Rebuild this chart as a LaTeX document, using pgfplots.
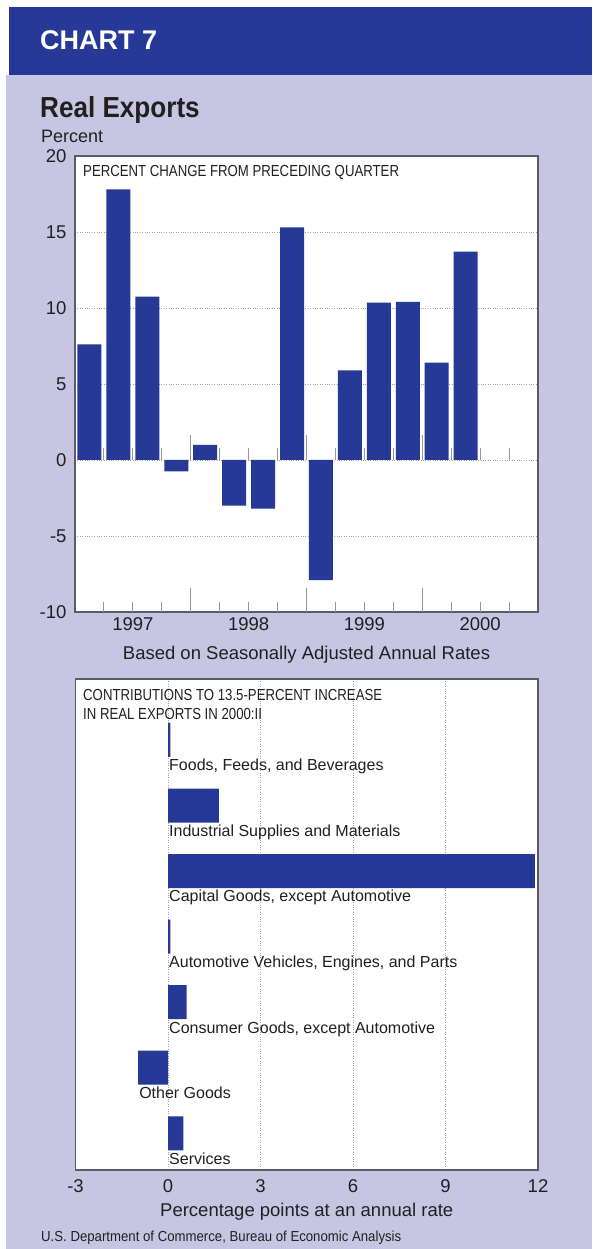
\documentclass[border=0pt]{standalone}
\usepackage{fontspec}
\setmainfont{Liberation Sans}
\usepackage{pgfplots}
\pgfplotsset{compat=1.18}
\definecolor{bea}{RGB}{39,57,150}
\definecolor{lav}{RGB}{199,198,226}
\definecolor{framegray}{RGB}{92,92,100}
\definecolor{ink}{RGB}{35,31,32}
\definecolor{tickgray}{RGB}{150,150,155}
\definecolor{gridgray}{RGB}{160,160,165}
\newcommand{\fs}[1]{\fontsize{#1}{#1}\selectfont}

\begin{document}
\begin{tikzpicture}[x=1pt,y=1pt]
% page background, header band
\fill[white] (0,0) rectangle (592,1249);
\fill[lav] (6,0) rectangle (592,1174);
\fill[bea] (9,1174) rectangle (592,1242);
\node[anchor=base west, inner sep=0pt, text=white, font=\fs{27}\bfseries] at (40,1199) {CHART 7};
\node[anchor=base west, inner sep=0pt, text=ink, font=\fs{29}\bfseries] at (40,1131) {\scalebox{0.9}[1]{Real Exports}};
\node[anchor=base west, inner sep=0pt, text=ink, font=\fs{18}] at (41,1106) {Percent};

% top chart: percent change from preceding quarter
\begin{axis}[
  at={(75pt,637pt)}, anchor=south west,
  width=463pt, height=456pt, scale only axis,
  xmin=0, xmax=16, ymin=-10, ymax=20,
  axis background/.style={fill=white},
  axis line style={draw=framegray, line width=1.6pt},
  ytick={-10,-5,0,5,10,15,20},
  yticklabels={-10,-5,0,5,10,15,20},
  xtick={2,6,10,14},
  xticklabels={1997,1998,1999,2000},
  tick style={draw=none},
  ymajorgrids,
  grid style={dotted, gridgray, line width=0.8pt},
  every tick label/.append style={font=\fs{18.5}, text=ink},
  yticklabel style={xshift=-5pt},
  xticklabel style={yshift=-2pt},
  xlabel={Based on Seasonally Adjusted Annual Rates},
  xlabel style={font=\fs{18.5}, text=ink, at={(rel axis cs:0.5,0)}, anchor=center, yshift=-43pt},
]
% quarter and year ticks on the zero line and on the bottom edge
\pgfplotsinvokeforeach{1,2,3,5,6,7,9,10,11,13,14,15}{
  \draw[tickgray, line width=1pt] (axis cs:#1,0) -- (axis cs:#1,0.8);
  \draw[tickgray, line width=1pt] (axis cs:#1,-10) -- (axis cs:#1,-9.34);
}
\pgfplotsinvokeforeach{4,8,12}{
  \draw[tickgray, line width=1pt] (axis cs:#1,0) -- (axis cs:#1,1.65);
  \draw[tickgray, line width=1pt] (axis cs:#1,-10) -- (axis cs:#1,-8.42);
}
\addplot[ybar, bar width=24pt, fill=bea, draw=none] coordinates {
  (0.5,7.6) (1.5,17.8) (2.5,10.75) (3.5,-0.75)
  (4.5,1.0) (5.5,-3.0) (6.5,-3.2) (7.5,15.3)
  (8.5,-7.9) (9.5,5.9) (10.5,10.35) (11.5,10.4)
  (12.5,6.4) (13.5,13.7)
};
\end{axis}
\node[anchor=base west, inner sep=0pt, text=ink, font=\fs{16}] at (83,1072) {\scalebox{0.825}[1]{PERCENT CHANGE FROM PRECEDING QUARTER}};

% bottom chart: contributions
\begin{axis}[
  at={(75.5pt,79pt)}, anchor=south west,
  width=462.5pt, height=491pt, scale only axis,
  xmin=-3, xmax=12, ymin=-0.93, ymax=6.56, y dir=reverse,
  axis background/.style={fill=white},
  axis line style={draw=framegray, line width=1.6pt},
  xtick={-3,0,3,6,9,12},
  xticklabels={-3,0,3,6,9,12},
  ytick=\empty,
  tick style={draw=none},
  xmajorgrids,
  grid style={dotted, gridgray, line width=0.8pt},
  every tick label/.append style={font=\fs{18.5}, text=ink},
  xticklabel style={yshift=-6pt},
  xlabel={Percentage points at an annual rate},
  xlabel style={font=\fs{18.5}, text=ink, at={(rel axis cs:0.5,0)}, anchor=center, yshift=-42pt},
]
\addplot[xbar, bar width=34pt, fill=bea, draw=none] coordinates {
  (0.08,0) (1.65,1) (11.9,2) (0.08,3) (0.6,4) (-0.97,5) (0.5,6)
};
\begin{scope}[every node/.style={anchor=north west, inner sep=0pt, yshift=-2pt, xshift=1pt, text=ink, font=\fs{16}}]
\node at (axis cs:0,0.26) {Foods, Feeds, and Beverages};
\node at (axis cs:0,1.26) {Industrial Supplies and Materials};
\node at (axis cs:0,2.26) {Capital Goods, except Automotive};
\node at (axis cs:0,3.26) {Automotive Vehicles, Engines, and Parts};
\node at (axis cs:0,4.26) {Consumer Goods, except Automotive};
\node at (axis cs:-0.97,5.26) {Other Goods};
\node at (axis cs:0,6.26) {Services};
\end{scope}
\end{axis}
\node[anchor=base west, inner sep=0pt, text=ink, font=\fs{16}] at (83,548) {\scalebox{0.825}[1]{CONTRIBUTIONS TO 13.5-PERCENT INCREASE}};
\node[anchor=base west, inner sep=0pt, text=ink, font=\fs{16}] at (83,529) {\scalebox{0.825}[1]{IN REAL EXPORTS IN 2000:II}};

\node[anchor=base west, inner sep=0pt, text=ink, font=\fs{14.5}] at (41,7) {\scalebox{0.91}[1]{U.S. Department of Commerce, Bureau of Economic Analysis}};
\end{tikzpicture}
\end{document}
